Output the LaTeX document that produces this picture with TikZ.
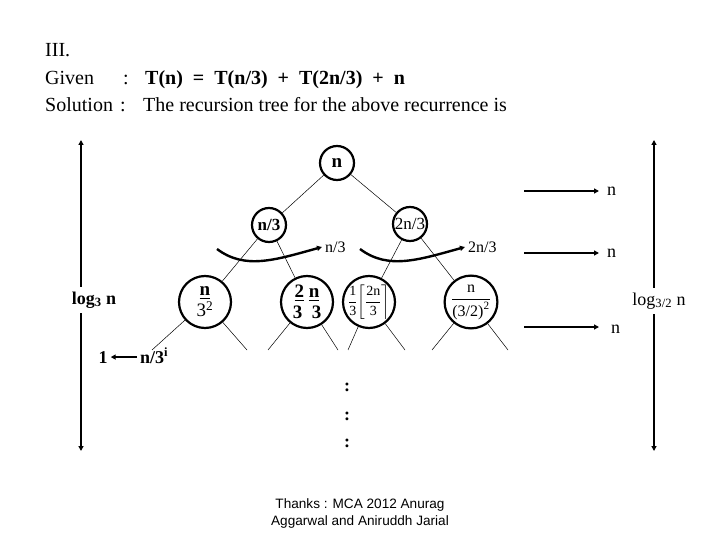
\documentclass[tikz,border=0pt]{standalone}
\usepackage{amsmath}
\usepackage{fontspec}
\setmainfont{Liberation Serif}
\newfontfamily\thanksfont{Liberation Sans}
\usetikzlibrary{arrows.meta}

\tikzset{
  headtext/.style={anchor=base west, inner sep=0pt, font=\fontsize{20}{22}\selectfont},
  lvlone/.style={circle, draw, line width=2.2pt, minimum size=34pt, inner sep=0pt, font=\fontsize{17}{17}\selectfont},
  lvltwo/.style={circle, draw, line width=2.2pt, minimum size=52pt, inner sep=0pt, align=center, font=\fontsize{19}{21}\selectfont},
  edge/.style={line width=0.5pt},
  tip/.style={-{Triangle[length=5pt,width=5pt]}},
  sweep/.style={line width=2.4pt, tip},
  sumarrow/.style={line width=1.8pt, tip},
  heightarrow/.style={line width=2.4pt},
  sidetext/.style={font=\fontsize{18}{18}\selectfont},
}

\begin{document}
\begin{tikzpicture}[x=1pt, y=-1pt]
\useasboundingbox (0,0) rectangle (720,540);

% heading
\node[headtext] (title) at (45,57) {III.};
\node[headtext] (given) at (45,85) {Given};
\node[headtext] at (123,85) {:};
\node[headtext] (rec) at (145,85) {\bfseries T(n)~~=~~T(n/3)~~+~~T(2n/3)~~+~~n};
\node[headtext] (sol) at (45,112) {Solution};
\node[headtext] at (120,112) {:};
\node[headtext] at (143,112) {The recursion tree for the above recurrence is};

% tree
\node[lvlone, font=\fontsize{19}{19}\selectfont] (root) at (337,163) {\bfseries n};
\node[lvlone] (left) at (269,225) {\bfseries n/3};
\node[lvlone] (right) at (410,224) {2n/3};
\node[lvltwo] (ll) at (205,302) {\underline{\bfseries n}\\3\textsuperscript{2}};
\node[lvltwo] (lr) at (307,302) {\bfseries \underline{2}~\underline{n}\\\bfseries 3~~3};
\node[lvltwo, inner sep=-8pt, font=\fontsize{14}{15}\selectfont] (rl) at (369,302) {$\dfrac{\text{1}}{\text{3}}\!\left[\dfrac{\text{2n}}{\text{3}}\right\rceil$};
\node[lvltwo, font=\fontsize{16}{17}\selectfont] (rr) at (471,302) {$\dfrac{\text{n}}{\text{(3/2)}^{\text{2}}}$};

\draw[edge] (root) -- (left);
\draw[edge] (root) -- (right);
\draw[edge] (left) -- (ll);
\draw[edge] (left) -- (lr);
\draw[edge] (right) -- (rl);
\draw[edge] (right) -- (rr);

\coordinate (s1) at (152,350);
\coordinate (s2) at (247,350);
\coordinate (s3) at (268,350);
\coordinate (s4) at (338,350);
\coordinate (s5) at (348,350);
\coordinate (s6) at (405,350);
\coordinate (s7) at (432,350);
\coordinate (s8) at (508,350);
\draw[edge] (ll) -- (s1);
\draw[edge] (ll) -- (s2);
\draw[edge] (lr) -- (s3);
\draw[edge] (lr) -- (s4);
\draw[edge] (rl) -- (s5);
\draw[edge] (rl) -- (s6);
\draw[edge] (rr) -- (s7);
\draw[edge] (rr) -- (s8);

% level sums under the first level
\coordinate (cl) at (217,249);
\coordinate (cr) at (360,249);
\draw[sweep] (cl) .. controls (245,270) and (275,260) .. (322,247)
  node[right, inner sep=2pt, font=\fontsize{16}{16}\selectfont] (suml) {n/3};
\draw[sweep] (cr) .. controls (388,270) and (418,260) .. (465,247)
  node[right, inner sep=2pt, font=\fontsize{16}{16}\selectfont] (sumr) {2n/3};

% row totals
\node[sidetext, anchor=west, inner xsep=8pt] (tot1) at (599,191) {n};
\node[sidetext, anchor=west, inner xsep=8pt] (tot2) at (599,253) {n};
\node[sidetext, anchor=west, inner xsep=12pt] (tot3) at (599,329) {n};
\coordinate (a1) at (524,191);
\coordinate (a2) at (524,253);
\coordinate (a3) at (524,327);
\draw[sumarrow] (a1) -- (tot1.west);
\draw[sumarrow] (a2) -- (tot2.west);
\draw[sumarrow] (a3) -- (tot3.west |- a3);

% heights
\node[sidetext, inner sep=5pt] (hl) at (94,300) {\bfseries log\textsubscript{3} n};
\node[sidetext, inner sep=5pt] (hr) at (659,301) {log\textsubscript{3/2} n};
\coordinate (hltop) at (81,140);
\coordinate (hlbot) at (81,451);
\coordinate (hrtop) at (654,140);
\coordinate (hrbot) at (654,451);
\draw[heightarrow, tip] (hltop |- hl.north) -- (hltop);
\draw[heightarrow, tip] (hlbot |- hl.south) -- (hlbot);
\draw[heightarrow, tip] (hrtop |- hr.north) -- (hrtop);
\draw[heightarrow, tip] (hrbot |- hr.south) -- (hrbot);

% leaf
\node[sidetext, inner sep=3pt, anchor=base] (leaf) at (103,363) {\bfseries 1};
\node[sidetext, inner sep=3pt, anchor=base west] (depth) at (137,363) {\bfseries n/3\textsuperscript{i}};
\draw[line width=1.4pt, tip] (depth.west |- leaf) -- (leaf);

% dots
\node[sidetext] (dot1) at (347,387) {\bfseries :};
\node[sidetext] (dot2) at (347,416) {\bfseries :};
\node[sidetext] (dot3) at (347,443) {\bfseries :};

\node[align=center, font=\thanksfont\fontsize{13.6}{17}\selectfont] (thanks) at (360,513)
  {Thanks : MCA 2012 Anurag\\Aggarwal and Aniruddh Jarial};
\end{tikzpicture}
\end{document}
